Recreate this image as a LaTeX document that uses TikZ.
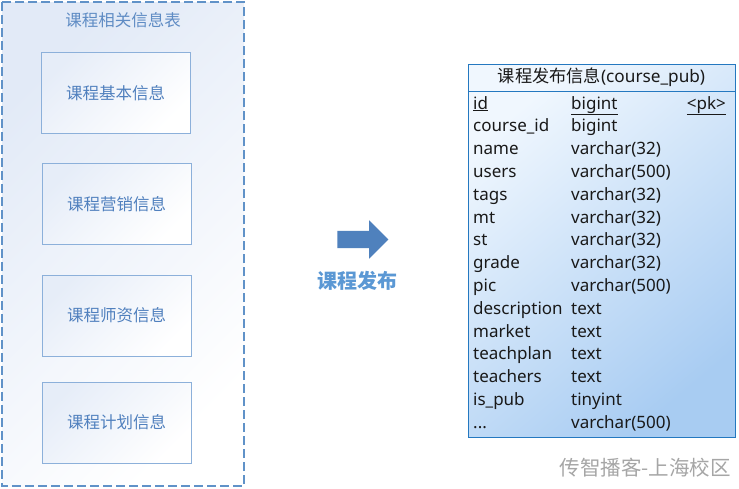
\documentclass[tikz,border=0pt]{standalone}
\usepackage{fontspec}
\setmainfont{Noto Sans}
\newfontfamily\cjk{Noto Sans CJK SC}
\usetikzlibrary{shapes.arrows}
\newcommand\mytdots{...}
\definecolor{dashblue}{RGB}{96,146,200}
\definecolor{titleblue}{RGB}{95,140,196}
\definecolor{boxtext}{RGB}{80,128,190}
\definecolor{boxborder}{RGB}{140,176,218}
\definecolor{boxfill}{RGB}{226,234,247}
\definecolor{arrowblue}{RGB}{79,129,189}
\definecolor{pubblue}{RGB}{91,152,212}
\definecolor{tabborder}{RGB}{36,120,192}
\definecolor{tabtop}{RGB}{240,247,254}
\definecolor{tabbot}{RGB}{168,204,242}
\definecolor{wmgray}{RGB}{166,166,166}
\tikzset{
  outerbox/.style={draw=dashblue, line width=1.3pt, dash pattern=on 9pt off 4pt,
    top color=boxfill, bottom color=white, shading angle=45},
  infobox/.style={draw=boxborder, line width=1pt, top color=boxfill!85, bottom color=white,
    shading angle=45, minimum width=149pt, minimum height=81pt, inner sep=0pt,
    font=\cjk\fontsize{16.5}{18}\selectfont, text=boxtext},
  fld/.style={anchor=base west, inner sep=0pt, font=\fontsize{17}{19}\selectfont, text=black!90},
  typ/.style={anchor=base west, inner sep=0pt, font=\fontsize{17}{19}\selectfont, text=black!90},
}
\begin{document}
\begin{tikzpicture}[x=1pt,y=-1pt]
\useasboundingbox (0,0) rectangle (739,488);
\fill[white] (0,0) rectangle (739,488);
% outer group
\path[outerbox] (2,2) rectangle (244,486);
\node[font=\cjk\fontsize{16.5}{18}\selectfont, text=titleblue] (grp) at (123,20) {课程相关信息表};
\node[infobox] (b1) at (115.5,93) {课程基本信息};
\node[infobox] (b2) at (116.5,204) {课程营销信息};
\node[infobox] (b3) at (116.5,315.5) {课程师资信息};
\node[infobox] (b4) at (116.5,422.5) {课程计划信息};
% arrow
\node[single arrow, fill=arrowblue, draw=none, inner xsep=0pt, inner ysep=8.5pt,
  minimum height=51pt, single arrow head extend=10.5pt, single arrow head indent=0pt] (arr) at (358.5,239.5) {};
\node[font=\cjk\bfseries\fontsize{20}{22}\selectfont, text=pubblue] (pub) at (357,281) {课程发布};
% table
\path[draw=tabborder, line width=1pt, top color=tabtop, bottom color=tabbot, shading angle=40] (468,64) rectangle (735,437);
\draw[tabborder, line width=1pt] (468,91) -- (735,91);
\node[font=\fontsize{17.2}{19}\selectfont, text=black!90, inner sep=0pt] (hdr) at (601.5,77) {{\cjk 课程发布信息}(course\_pub)};
\foreach \i/\f/\t in {0/\underline{id}/\underline{bigint},1/course\_id/bigint,2/name/varchar(32),3/users/varchar(500),
  4/tags/varchar(32),5/mt/varchar(32),6/st/varchar(32),7/grade/varchar(32),8/pic/varchar(500),
  9/description/text,10/market/text,11/teachplan/text,12/teachers/text,13/is\_pub/tinyint,14/\mytdots/varchar(500)}{
  \node[fld] (f\i) at (473,{109+22.8*\i}) {\f};
  \node[typ] (t\i) at (571,{109+22.8*\i}) {\t};
}
\node[anchor=base east, inner sep=0pt, font=\fontsize{17}{19}\selectfont, text=black!90] (pk) at (726,109) {\underline{<pk>}};
% watermark
\node[font=\cjk\fontsize{20.5}{22}\selectfont, text=wmgray, anchor=east, inner sep=0pt] (wm) at (731,468) {传智播客-上海校区};
\end{tikzpicture}
\end{document}
